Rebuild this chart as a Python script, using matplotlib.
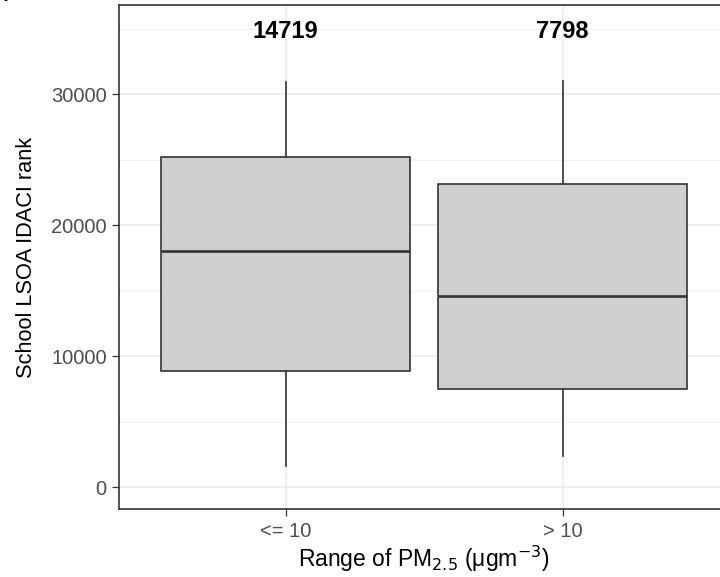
import numpy as np
import matplotlib.pyplot as plt

plt.rcParams['font.family'] = ['Liberation Sans', 'DejaVu Sans']

# data
groups = ['<= 10', '> 10']
counts = ['14719', '7798']
whislo = [1600, 2390]
q1 = [8880, 7530]
med = [18010, 14600]
q3 = [25190, 23150]
whishi = [30920, 31010]

stats = []
for i in range(len(groups)):
    stats.append(dict(label=groups[i], whislo=whislo[i], q1=q1[i], med=med[i],
                      q3=q3[i], whishi=whishi[i], fliers=[]))

fig = plt.figure(figsize=(7.2, 5.77), dpi=100)
ax = fig.add_axes([0.1657, 0.1173, 1.0125 - 0.1657, 0.9913 - 0.1173])

pos = np.arange(1, len(groups) + 1)
ax.bxp(stats, positions=pos, widths=0.9, patch_artist=True, showcaps=False,
       boxprops=dict(facecolor='#CFCFCF', edgecolor='#333333', linewidth=1.2),
       medianprops=dict(color='#333333', linewidth=1.9),
       whiskerprops=dict(color='#333333', linewidth=1.2), zorder=2)

# counts above boxes
for x, c in zip(pos, counts):
    ax.text(x, 34800, c, ha='center', va='center', fontsize=17, fontweight='bold', color='black')

ax.set_xlim(0.4, 2.6)
ax.set_ylim(-1680, 36800)
ax.set_yticks([0, 10000, 20000, 30000])
ax.set_yticks([5000, 15000, 25000, 35000], minor=True)
ax.set_xticks(pos)
ax.set_xticklabels(groups)

ax.grid(True, which='major', color='#EBEBEB', linewidth=1.1, zorder=0)
ax.grid(True, which='minor', axis='y', color='#F2F2F2', linewidth=0.8, zorder=0)
ax.set_axisbelow(True)
ax.tick_params(which='minor', length=0)
ax.tick_params(which='major', length=5, width=0.9, color='#333333',
               labelsize=14.5, labelcolor='#4D4D4D', pad=4)
for s in ax.spines.values():
    s.set_color('#333333')
    s.set_linewidth(1.2)

ax.set_ylabel('School LSOA IDACI rank', fontsize=15.7, color='black', labelpad=10)
ax.set_xlabel(r'Range of PM$_{2.5}$ ($\mathregular{\mu}$gm$^{-3}$)', fontsize=16.5, color='black', labelpad=2)

fig.text(8 / 720, 1 - 5 / 577, 'A', ha='right', va='bottom', fontsize=14, fontweight='bold')

fig.savefig('out.png', dpi=100)
